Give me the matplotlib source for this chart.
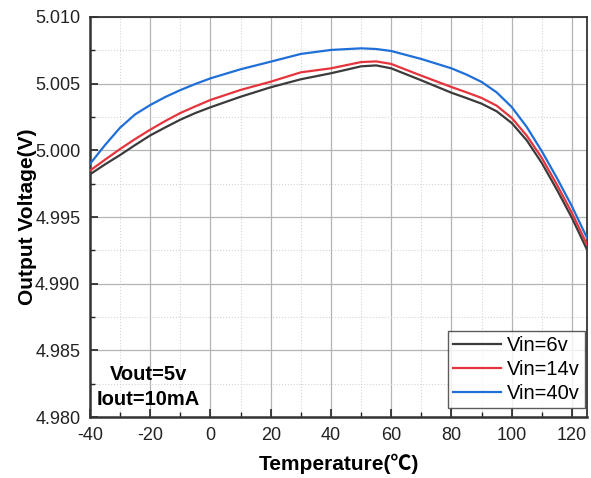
import matplotlib
matplotlib.use('Agg')
import matplotlib.pyplot as plt
from matplotlib.ticker import MultipleLocator

plt.rcParams['font.family'] = ['Liberation Sans', 'Noto Sans CJK SC', 'DejaVu Sans']
plt.rcParams['axes.unicode_minus'] = False

# temperature points (C) and output voltage (V)
temp = [-40, -35, -30, -25, -20, -15, -10, -5, 0, 10, 20, 30, 40, 50, 55, 60, 70, 80, 85, 90, 95,
        100, 105, 110, 115, 120, 125]
vin6 = [4.99820, 4.99895, 4.99965, 5.00040, 5.00112, 5.00172, 5.00230, 5.00280, 5.00323, 5.00402,
        5.00473, 5.00533, 5.00578, 5.00630, 5.00637, 5.00615, 5.00525, 5.00432, 5.00392, 5.00350,
        5.00293, 5.00205, 5.00075, 4.99905, 4.99705, 4.99493, 4.99255]
vin14 = [4.99848, 4.99930, 5.00010, 5.00085, 5.00155, 5.00220, 5.00280, 5.00330, 5.00378, 5.00453,
         5.00515, 5.00585, 5.00615, 5.00662, 5.00667, 5.00648, 5.00560, 5.00475, 5.00435, 5.00393,
         5.00335, 5.00243, 5.00110, 4.99943, 4.99743, 4.99530, 4.99293]
vin40 = [4.99898, 5.00040, 5.00170, 5.00270, 5.00340, 5.00400, 5.00452, 5.00498, 5.00540, 5.00608,
         5.00665, 5.00723, 5.00753, 5.00765, 5.00760, 5.00745, 5.00685, 5.00615, 5.00568, 5.00513,
         5.00435, 5.00325, 5.00175, 4.99993, 4.99793, 4.99580, 4.99343]

series = [('Vin=6v', vin6, '#3b3b3b'),
          ('Vin=14v', vin14, '#e6343c'),
          ('Vin=40v', vin40, '#1f6fd8')]

fig = plt.figure(figsize=(5.91, 4.78), dpi=100)
ax = fig.add_axes([90 / 591, 61 / 478, 497 / 591, 400 / 478])

for label, vals, color in series:
    ax.plot(temp, vals, color=color, lw=1.6, label=label, zorder=3)

ax.set_xlim(-40, 125)
ax.set_ylim(4.980, 5.010)
ax.xaxis.set_major_locator(MultipleLocator(20))
ax.xaxis.set_minor_locator(MultipleLocator(10))
ax.yaxis.set_major_locator(MultipleLocator(0.005))
ax.yaxis.set_minor_locator(MultipleLocator(0.0025))
ax.yaxis.set_major_formatter(matplotlib.ticker.FormatStrFormatter('%.3f'))

ax.grid(which='major', color='#b4b4b4', lw=0.9, ls='-')
ax.grid(which='minor', color='#d4d4d4', lw=0.8, ls=':')
ax.set_axisbelow(True)

ax.tick_params(which='both', direction='in', top=False, right=False, labelsize=13, colors='#222222')
ax.tick_params(which='major', length=6, width=1.2, pad=7)
ax.tick_params(which='minor', length=3.5, width=1)
for s in ax.spines.values():
    s.set_linewidth(1.3)
    s.set_color('#333333')
ax.spines['bottom'].set_linewidth(1.8)
ax.spines['left'].set_linewidth(1.8)

ax.set_xlabel('Temperature(℃)', fontsize=15, fontweight='bold', labelpad=7)
ax.set_ylabel('Output Voltage(V)', fontsize=15, fontweight='bold')
ax.yaxis.set_label_coords(-0.106, 0.5)

ax.text(-20.5, 4.9832, 'Vout=5v', fontsize=14.5, fontweight='bold', ha='center', va='center')
ax.text(-20.5, 4.9813, 'Iout=10mA', fontsize=14.5, fontweight='bold', ha='center', va='center')

leg = ax.legend(loc='lower right', bbox_to_anchor=(0.996, 0.022), fontsize=14.5, frameon=True,
                fancybox=False, handlelength=2.4, handletextpad=0.3, borderpad=0.25,
                labelspacing=0.25, borderaxespad=0)
leg.get_frame().set_edgecolor('#333333')
leg.get_frame().set_linewidth(1.0)

fig.savefig('out.png', dpi=100)
